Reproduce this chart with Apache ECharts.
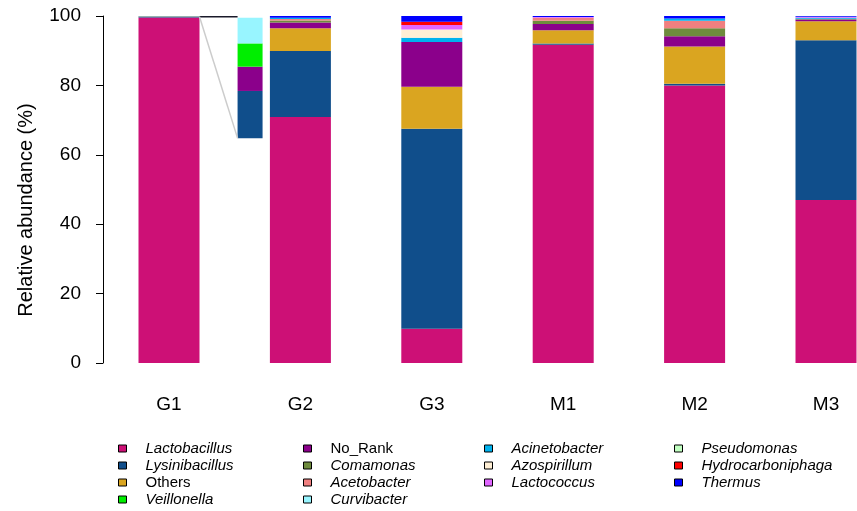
<!DOCTYPE html>
<html>
<head>
<meta charset="utf-8">
<script src="https://cdn.jsdelivr.net/npm/echarts@6/dist/echarts.min.js"></script>
<style>
  html, body { margin: 0; padding: 0; background: #fff; }
  #chart { width: 857px; height: 511px; }
</style>
</head>
<body>
<div id="chart"></div>
<script>
// Samples on the x axis
const categories = ['G1', 'G2', 'G3', 'M1', 'M2', 'M3'];

// Stack order, bottom to top
const taxa = ['Lactobacillus', 'Lysinibacillus', 'Others', 'No_Rank', 'Veillonella', 'Comamonas',
  'Acetobacter', 'Curvibacter', 'Acinetobacter', 'Azospirillum', 'Lactococcus', 'Pseudomonas',
  'Hydrocarboniphaga', 'Thermus'];

// Relative abundance (%) per sample, in category order
const lactobacillus     = [99.57, 70.9, 9.9, 91.7, 80.0, 47.0];
const lysinibacillus    = [0.17, 19.0, 57.6, 0.4, 0.5, 46.0];
const others            = [0, 6.6, 12.1, 3.8, 10.7, 5.5];
const noRank            = [0.09, 1.6, 12.9, 1.8, 3.0, 0.5];
const veillonella       = [0.08, 0, 0, 0, 0, 0];
const comamonas         = [0, 0.6, 0, 0.9, 2.3, 0.2];
const acetobacter       = [0, 0.4, 0, 0.9, 2.1, 0];
const curvibacter       = [0.09, 0, 0, 0, 0, 0];
const acinetobacter     = [0, 0.4, 1.2, 0, 0.7, 0.3];
const azospirillum      = [0, 0, 2.4, 0, 0, 0];
const lactococcus       = [0, 0, 1.3, 0.2, 0, 0.2];
const pseudomonas       = [0, 0, 0, 0, 0, 0.1];
const hydrocarboniphaga = [0, 0, 0.95, 0, 0, 0];
const thermus           = [0, 0.5, 1.65, 0.3, 0.7, 0.2];

// Magnified view of the minor taxa in G1 (drawn beside the G1 bar)
const insetBase = 64.8;
const insetTaxa   = ['Lysinibacillus', 'No_Rank', 'Veillonella', 'Curvibacter'];
const insetValues = [13.6, 7.0, 6.7, 7.4];

// Y axis ticks
const yTicks = [0, 20, 40, 60, 80, 100];

const values = {
  Lactobacillus: lactobacillus, Lysinibacillus: lysinibacillus, Others: others, No_Rank: noRank,
  Veillonella: veillonella, Comamonas: comamonas, Acetobacter: acetobacter, Curvibacter: curvibacter,
  Acinetobacter: acinetobacter, Azospirillum: azospirillum, Lactococcus: lactococcus,
  Pseudomonas: pseudomonas, Hydrocarboniphaga: hydrocarboniphaga, Thermus: thermus
};

const colors = {
  Lactobacillus: '#CD1076', Lysinibacillus: '#104E8B', Others: '#DAA520', No_Rank: '#8B008B',
  Veillonella: '#00EE00', Comamonas: '#6E8B3D', Acetobacter: '#F08080', Curvibacter: '#98F5FF',
  Acinetobacter: '#00B2EE', Azospirillum: '#FFEFD5', Lactococcus: '#E066FF',
  Pseudomonas: '#C1FFC1', Hydrocarboniphaga: '#FF0000', Thermus: '#0000FF'
};

const FONT = '"Liberation Sans", Arial, sans-serif';
const plainNames = ['Others', 'No_Rank'];

// Plot area: first and last samples sit on the grid edges
const gridLeft = 169, gridRight = 31;
const bandPx = (857 - gridLeft - gridRight) / (categories.length - 1);
const mainBarPx = 61;
const insetBarPx = 25;
const insetCenter = 0.617;                       // in sample units from G1
const g1Right = (mainBarPx / 2) / bandPx;
const insetLeft = insetCenter - (insetBarPx / 2) / bandPx;

const series = [];
taxa.forEach(name => {
  series.push({
    name, type: 'bar', stack: 'main', xAxisIndex: 0, yAxisIndex: 0,
    barWidth: mainBarPx, data: values[name], clip: false,
    itemStyle: { color: colors[name] }, emphasis: { disabled: true }
  });
});

// Inset segments: [x, from, to, taxon index]
const insetData = [];
let acc = insetBase;
insetValues.forEach((v, i) => {
  insetData.push([insetCenter, acc, acc + v, i]);
  acc += v;
});
series.push({
  name: 'G1 detail', type: 'custom', xAxisIndex: 1, yAxisIndex: 0,
  encode: { x: 0, y: [1, 2] }, data: insetData, silent: true,
  renderItem(params, api) {
    const x = api.value(0);
    const p0 = api.coord([x, api.value(1)]);
    const p1 = api.coord([x, api.value(2)]);
    return {
      type: 'rect',
      shape: { x: p0[0] - insetBarPx / 2, y: p1[1], width: insetBarPx, height: p0[1] - p1[1] },
      style: { fill: colors[insetTaxa[api.value(3)]] }
    };
  }
});

// Connector lines from the top of the G1 bar to the inset
series.push({
  name: 'connTop', type: 'line', xAxisIndex: 1, yAxisIndex: 0, symbol: 'none', silent: true,
  data: [[g1Right, 99.8], [insetLeft, 99.8]],
  lineStyle: { color: '#1a1a2a', width: 1.5 }, z: 5
});
series.push({
  name: 'connDiag', type: 'line', xAxisIndex: 1, yAxisIndex: 0, symbol: 'none', silent: true,
  data: [[g1Right, 99.8], [insetLeft, insetBase]],
  lineStyle: { color: '#cccccc', width: 1.5 }, z: 5
});

function legendColumn(names, left) {
  return {
    orient: 'vertical', left, top: 435, height: 90, padding: 5,
    icon: 'rect', itemWidth: 8, itemHeight: 7, itemGap: 0,
    itemStyle: { borderColor: '#000', borderWidth: 1 },
    selectedMode: false,
    textStyle: { fontSize: 15, color: '#000', fontFamily: FONT, lineHeight: 17, padding: [0, 0, 0, 14] },
    data: names.map(n => ({
      name: n,
      itemStyle: { color: colors[n], borderColor: '#000', borderWidth: 1 },
      textStyle: { fontStyle: plainNames.includes(n) ? 'normal' : 'italic' }
    }))
  };
}

const option = {
  animation: false,
  backgroundColor: '#fff',
  textStyle: { fontFamily: FONT },
  grid: { left: gridLeft, right: gridRight, top: 16, bottom: 148, containLabel: false },
  xAxis: [
    {
      type: 'category', data: categories, boundaryGap: false,
      axisLine: { show: false }, axisTick: { show: false }, splitLine: { show: false },
      axisLabel: { fontSize: 19, color: '#000', margin: 32, fontFamily: FONT }
    },
    { type: 'value', min: 0, max: categories.length - 1, show: false }
  ],
  yAxis: {
    type: 'value', min: yTicks[0], max: yTicks[yTicks.length - 1], interval: yTicks[1] - yTicks[0],
    offset: 66,
    name: 'Relative abundance (%)', nameLocation: 'middle', nameGap: 67,
    nameTextStyle: { fontSize: 20, color: '#000', fontFamily: FONT, padding: [0, 41, 0, 0] },
    axisLine: { show: true, onZero: false, lineStyle: { color: '#000', width: 1 } },
    axisTick: { show: true, length: 7, lineStyle: { color: '#000' } },
    axisLabel: { fontSize: 19, color: '#000', margin: 22, fontFamily: FONT },
    splitLine: { show: false }
  },
  legend: [
    legendColumn(['Lactobacillus', 'Lysinibacillus', 'Others', 'Veillonella'], 113),
    legendColumn(['No_Rank', 'Comamonas', 'Acetobacter', 'Curvibacter'], 298),
    legendColumn(['Acinetobacter', 'Azospirillum', 'Lactococcus'], 479),
    legendColumn(['Pseudomonas', 'Hydrocarboniphaga', 'Thermus'], 669)
  ],
  series
};

const chart = echarts.init(document.getElementById('chart'), null, { renderer: 'canvas' });
chart.setOption(option);
</script>
</body>
</html>
